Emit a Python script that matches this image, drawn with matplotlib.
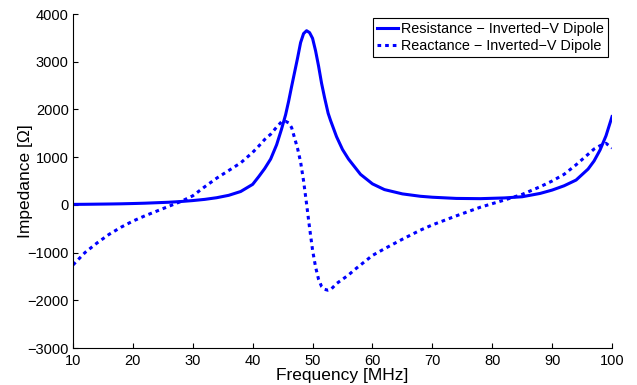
import matplotlib
matplotlib.use('Agg')
import matplotlib.pyplot as plt

plt.rcParams['font.family'] = ['Liberation Sans', 'DejaVu Sans']

freq = [10, 12, 14, 16, 18, 20, 22, 24, 26, 28, 30, 32, 34, 36, 38, 40, 41, 42, 43, 44,
        44.8, 45.5, 46, 46.5, 47, 47.5, 48, 48.5, 49, 49.5, 50, 50.5, 51, 51.5, 52, 52.6,
        53, 54, 55, 56, 57, 58, 60, 62, 65, 68, 70, 74, 78, 82, 85, 88, 90, 92, 94, 96,
        97, 98, 99, 100]

resistance = [10, 12, 15, 18, 22, 28, 35, 45, 55, 70, 90, 115, 150, 200, 280, 430, 590,
              760, 960, 1260, 1580, 1890, 2170, 2480, 2780, 3080, 3400, 3590, 3650, 3610,
              3490, 3230, 2910, 2550, 2250, 1920, 1770, 1430, 1160, 960, 800, 640, 440, 320,
              230, 180, 160, 135, 130, 145, 170, 240, 310, 400, 520, 750, 920, 1150, 1450,
              1850]

reactance = [-1260, -1000, -800, -620, -470, -340, -230, -130, -30, 70, 190, 380, 560, 720,
             880, 1100, 1230, 1370, 1480, 1630, 1740, 1750, 1720, 1620, 1400, 1180, 900,
             500, 20, -480, -950, -1300, -1560, -1710, -1770, -1790, -1780, -1650, -1560,
             -1470, -1360, -1260, -1060, -920, -720, -530, -420, -230, -50, 100, 220, 380,
             500, 640, 840, 1060, 1170, 1240, 1290, 1190]

fig = plt.figure(figsize=(6.37, 3.85), dpi=100)
ax = fig.add_axes([0.1146, 0.0961, 0.8462, 0.8675])

ax.plot(freq, resistance, color='#0000ff', lw=2.2, label='Resistance \u2212 Inverted\u2212V Dipole')
ax.plot(freq, reactance, color='#0000ff', lw=2.2, linestyle=(0, (1.2, 1.3)),
        label='Reactance \u2212 Inverted\u2212V Dipole')

ax.set_xlim(10, 100)
ax.set_ylim(-3000, 4000)
ax.set_xticks(range(10, 101, 10))
ax.set_yticks(range(-3000, 4001, 1000))
ax.spines['top'].set_visible(False)
ax.spines['right'].set_visible(False)
ax.tick_params(direction='in', length=3.6, labelsize=10.5)
ax.tick_params(axis='x', pad=4)
ax.tick_params(axis='y', pad=3)
ax.set_xlabel('Frequency [MHz]', fontsize=12.5, labelpad=0)
ax.set_ylabel('Impedance [\u03a9]', fontsize=12.5)
ax.yaxis.set_label_coords(-0.074, 0.5)

leg = ax.legend(loc='upper right', fontsize=10.4, fancybox=False, framealpha=1,
                edgecolor='black', borderaxespad=0.25, handlelength=1.45,
                handletextpad=0.2, borderpad=0.3, labelspacing=0.2)
leg.get_frame().set_linewidth(0.8)

fig.savefig('out.png', dpi=100)
